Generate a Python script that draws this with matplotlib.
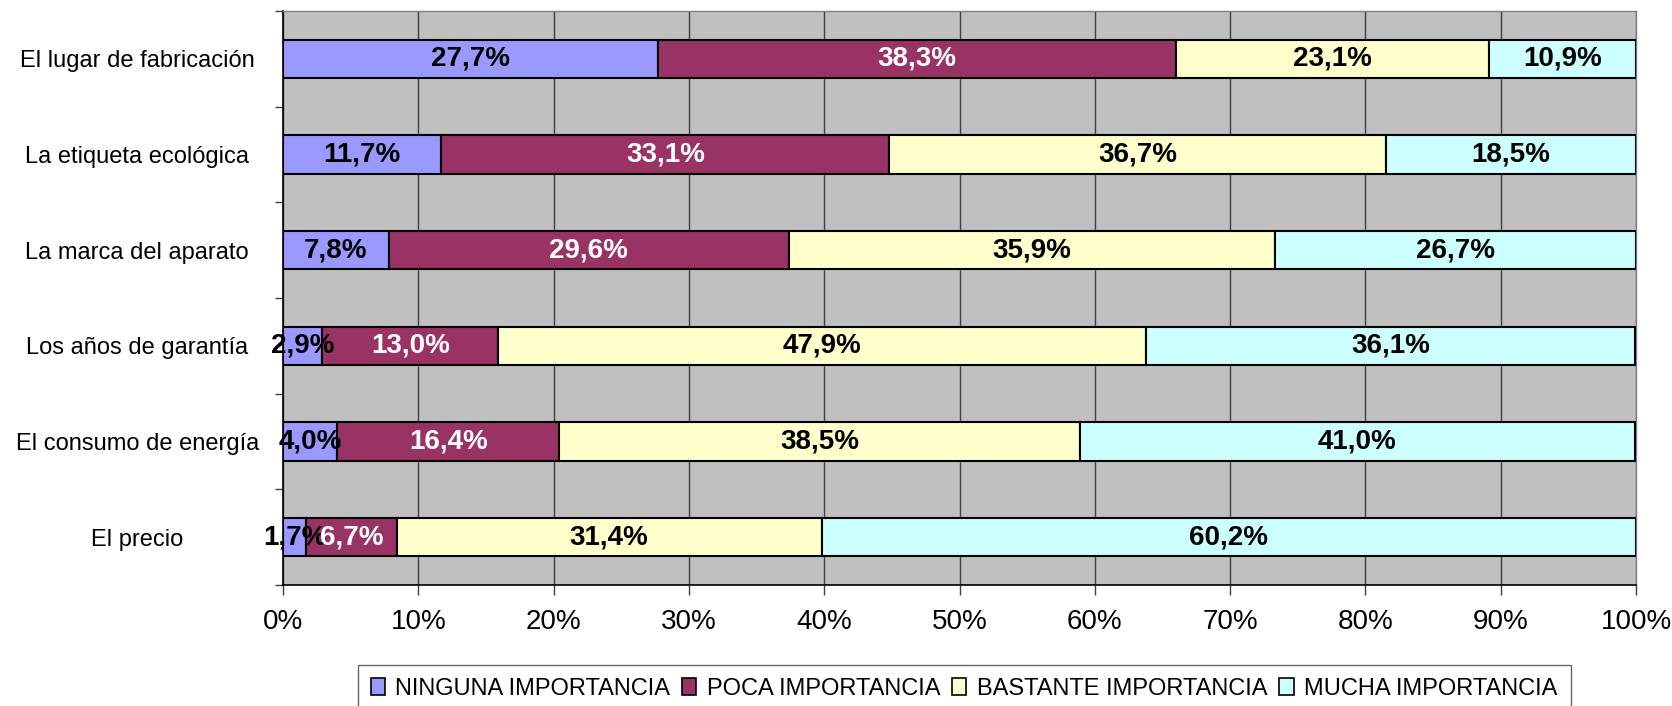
import numpy as np
import matplotlib

matplotlib.use('Agg')
import matplotlib.pyplot as plt
from matplotlib.patches import Patch

# Survey answers, top row first
categories = ['El lugar de fabricación', 'La etiqueta ecológica', 'La marca del aparato',
              'Los años de garantía', 'El consumo de energía', 'El precio']
ninguna = [27.7, 11.7, 7.8, 2.9, 4.0, 1.7]
poca = [38.3, 33.1, 29.6, 13.0, 16.4, 6.7]
bastante = [23.1, 36.7, 35.9, 47.9, 38.5, 31.4]
mucha = [10.9, 18.5, 26.7, 36.1, 41.0, 60.2]

series_names = ['NINGUNA IMPORTANCIA', 'POCA IMPORTANCIA', 'BASTANTE IMPORTANCIA', 'MUCHA IMPORTANCIA']
series_colors = ['#9999FF', '#993366', '#FFFFCC', '#CCFFFF']
label_colors = ['black', 'white', 'black', 'black']

x_ticks = [0, 10, 20, 30, 40, 50, 60, 70, 80, 90, 100]
x_tick_labels = ['0%', '10%', '20%', '30%', '40%', '50%', '60%', '70%', '80%', '90%', '100%']

font = ['Liberation Sans', 'DejaVu Sans']

fig = plt.figure(figsize=(16.72, 7.06), dpi=100)
ax = fig.add_axes([0.1693, 0.1714, 0.8092, 0.8130])
ax.set_facecolor('#C0C0C0')

y = np.arange(len(categories))
left = np.zeros(len(categories))
for vals, name, col, tcol in zip([ninguna, poca, bastante, mucha], series_names,
                                 series_colors, label_colors):
    vals = np.array(vals)
    ax.barh(y, vals, left=left, height=0.4, color=col, edgecolor='black',
            linewidth=1.5, label=name, zorder=3)
    for yi, l, v in zip(y, left, vals):
        txt = ('%.1f' % v).replace('.', ',') + '%'
        ax.text(l + v / 2, yi, txt, ha='center', va='center', color=tcol,
                fontsize=20, fontweight='bold', family=font, zorder=4, clip_on=False)
    left += vals

ax.set_xlim(0, 100)
ax.set_ylim(len(categories) - 0.5, -0.5)

# vertical grid only
ax.set_xticks(x_ticks)
ax.set_xticklabels(x_tick_labels, family=font, fontsize=20)
ax.xaxis.grid(True, color='#404040', linewidth=1, zorder=1)
ax.tick_params(axis='x', direction='out', length=7, width=1, pad=10, color='#404040')

# category ticks on the boundaries, centred labels in between
ax.set_yticks(np.arange(-0.5, len(categories), 1.0))
ax.set_yticklabels([])
ax.set_yticks(y, minor=True)
ax.set_yticklabels(categories, minor=True, family=font, fontsize=17, ha='center')
ax.tick_params(axis='y', which='major', direction='out', length=6, width=1, color='#404040')
ax.tick_params(axis='y', which='minor', length=0, pad=105)

for s in ['left', 'bottom']:
    ax.spines[s].set_color('black')
    ax.spines[s].set_linewidth(1.2)
for s in ['top', 'right']:
    ax.spines[s].set_color('#808080')
    ax.spines[s].set_linewidth(1)

handles = [Patch(facecolor=c, edgecolor='black', linewidth=1.2) for c in series_colors]
leg = fig.legend(handles, series_names, loc='upper center', bbox_to_anchor=(0.5766, 1 - 665 / 706),
                 ncol=4, frameon=True, fancybox=False, shadow=False,
                 prop={'family': font, 'size': 17}, handlelength=0.6, handleheight=0.75,
                 handletextpad=0.45, columnspacing=0.5, borderpad=0.55, borderaxespad=0)
leg.get_frame().set_edgecolor('#404040')
leg.get_frame().set_linewidth(1)

fig.savefig('out.png', dpi=100)
